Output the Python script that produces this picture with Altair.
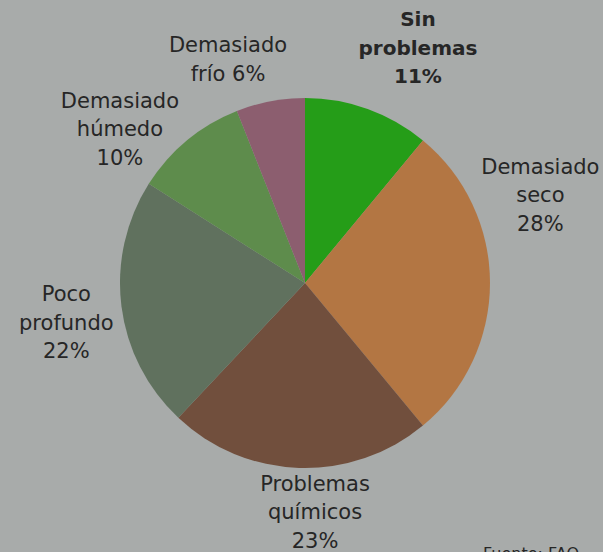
import altair as alt
import pandas as pd

categories = ["Sin problemas", "Demasiado seco", "Problemas químicos",
              "Poco profundo", "Demasiado húmedo", "Demasiado frío"]
values = [11, 28, 23, 22, 10, 6]
label_lines = [["Sin", "problemas", "11%"],
               ["Demasiado", "seco", "28%"],
               ["Problemas", "químicos", "23%"],
               ["Poco", "profundo", "22%"],
               ["Demasiado", "húmedo", "10%"],
               ["Demasiado", "frío 6%"]]
colors = ["#1d9c10", "#b3733d", "#6e4a37", "#5c6e5a", "#5a8a47", "#8a5a6b"]

# label placement (style): angular nudge in percent units, radius in px (first line anchor)
label_nudge = [0.96, -7.24, -1.29, 1.2, -1.67, -2.0]
label_radius = [286, 262, 202, 239, 259, 249]
label_bold = [True, False, False, False, False, False]

df = pd.DataFrame({"cat": categories, "value": values, "order": range(len(values))})
cum = df["value"].cumsum()
df["mid"] = cum - df["value"] / 2 + pd.Series(label_nudge)
df["lr"] = label_radius
df["label"] = label_lines
df["bold"] = label_bold

CX, CY, R = 305, 283, 185

color_scale = alt.Scale(domain=categories, range=colors)

pie = alt.Chart(df).mark_arc(outerRadius=R, opacity=0.95).encode(
    theta=alt.Theta("value:Q", stack=True),
    color=alt.Color("cat:N", scale=color_scale, legend=None),
    order=alt.Order("order:Q"),
    x=alt.value(CX),
    y=alt.value(CY),
)

theta_scale = alt.Scale(domain=[0, 100], range=[0, 6.283185307])

def labels(bold):
    return alt.Chart(df).transform_filter(
        alt.datum.bold == bold
    ).mark_text(
        font="DejaVu Sans", fontSize=20 if bold else 21,
        fontWeight="bold" if bold else "normal",
        color="#262626", align="center", baseline="middle", lineHeight=28.5,
    ).encode(
        theta=alt.Theta("mid:Q", scale=theta_scale, stack=None),
        radius=alt.Radius("lr:Q", scale=None),
        text="label",
        x=alt.value(CX),
        y=alt.value(CY),
    )

source = alt.Chart(pd.DataFrame({"t": ["Fuente: FAO"]})).mark_text(
    font="DejaVu Sans", fontSize=16, color="#262626", align="left", baseline="alphabetic"
).encode(text="t:N", x=alt.value(483), y=alt.value(559))

chart = alt.layer(pie, labels(False), labels(True), source).properties(
    width=603, height=552,
    autosize=alt.AutoSizeParams(type="none"),
    padding=0,
    background="#a8abaa",
).configure_view(stroke=None)

chart.save("out.html", embed_options={"renderer": "svg", "actions": False})
